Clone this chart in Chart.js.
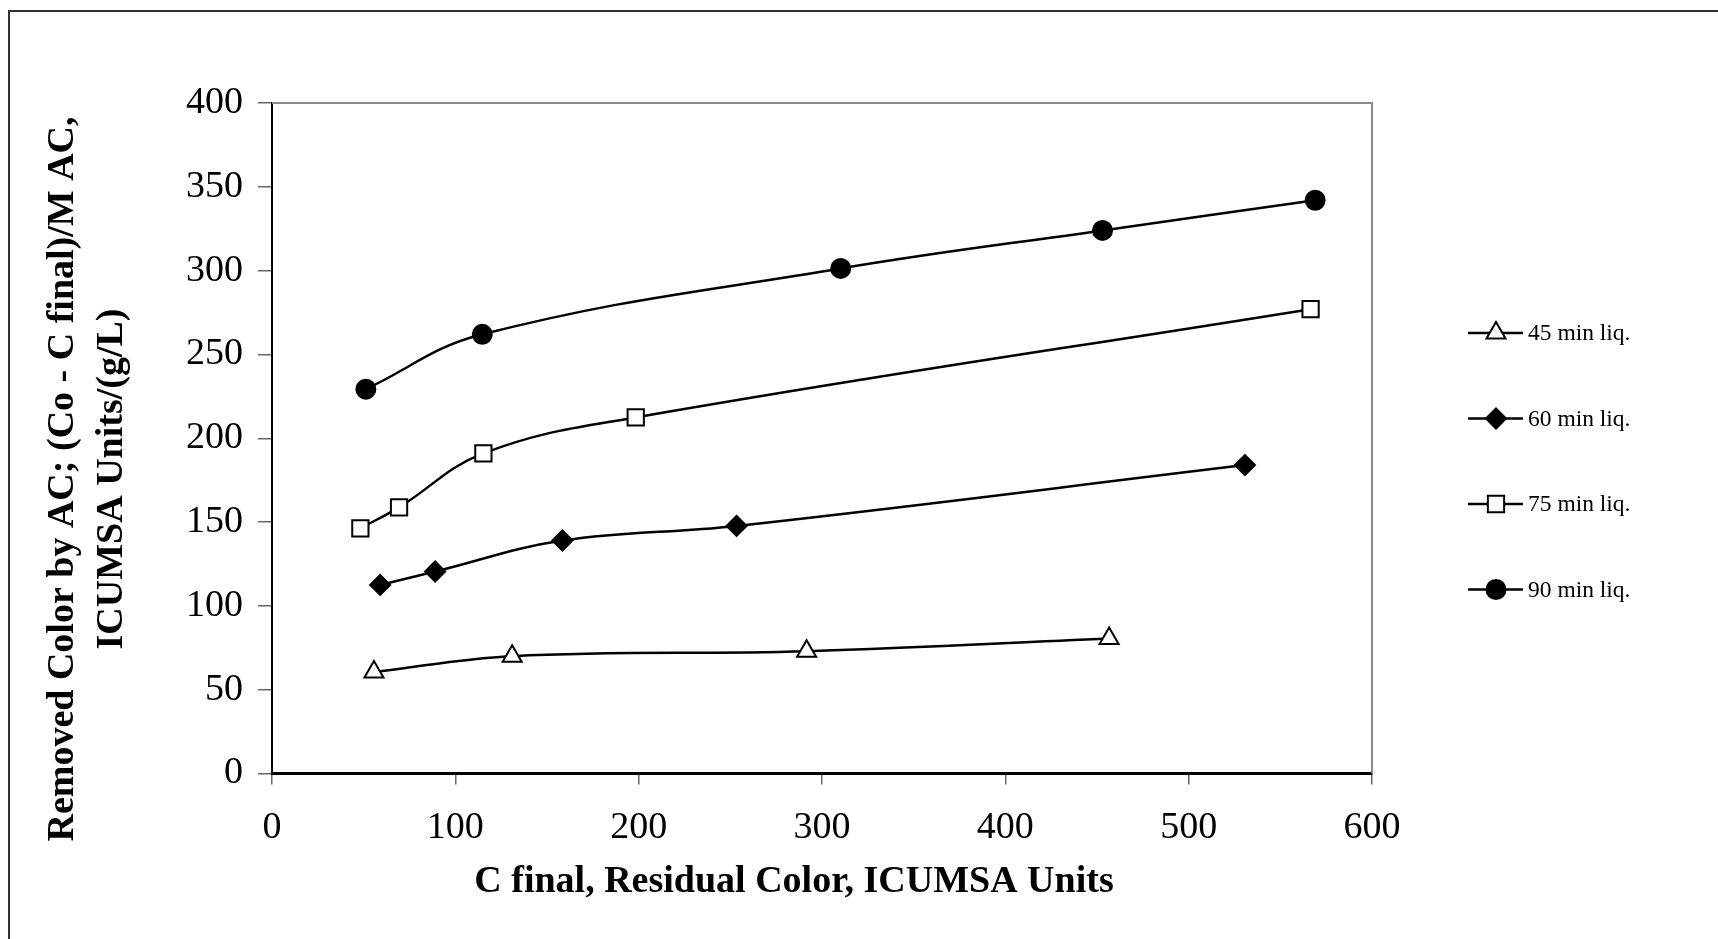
<!DOCTYPE html>
<html>
<head>
<meta charset="utf-8">
<script src="https://cdn.jsdelivr.net/npm/chart.js@4.4.1/dist/chart.umd.min.js"></script>
<style>
  html, body { margin: 0; padding: 0; background: #fff; }
  #wrap { width: 1718px; height: 939px; }
</style>
</head>
<body>
<div id="wrap"><canvas id="c" width="1718" height="939"></canvas></div>
<script>
// Residual colour (C final) and colour removed per gram of activated carbon
const x45 = [55.6, 131, 291.6, 456.6];
const y45 = [60.5, 70, 73, 80.5];

const x60 = [59, 89, 158.4, 253.4, 530.7];
const y60 = [112.5, 120.5, 139, 147.7, 184];

const x75 = [48.2, 69.3, 115.3, 198.4, 566.5];
const y75 = [146.3, 158.8, 191, 212.4, 277];

const x90 = [51.2, 114.7, 310.2, 453, 569];
const y90 = [229.3, 262, 301.3, 324, 342];

const seriesNames = ['45 min liq.', '60 min liq.', '75 min liq.', '90 min liq.'];
const xTicks = [0, 100, 200, 300, 400, 500, 600];
const yTicks = [0, 50, 100, 150, 200, 250, 300, 350, 400];

const xTitle = 'C final, Residual Color, ICUMSA Units';
const yTitleLines = ['Removed Color by AC; (Co - C final)/M AC,', 'ICUMSA Units/(g/L)'];

const SERIF = '"Liberation Serif", "Times New Roman", serif';

function pairs(xs, ys) { return xs.map((x, i) => ({ x: x, y: ys[i] })); }

const markerStyles = [
  { pointStyle: 'triangle', radius: 11, fill: '#fff' },
  { pointStyle: 'rectRot', radius: 10, fill: '#000' },
  { pointStyle: 'rect', radius: 11.5, fill: '#fff' },
  { pointStyle: 'circle', radius: 9.5, fill: '#000' }
];
const seriesData = [pairs(x45, y45), pairs(x60, y60), pairs(x75, y75), pairs(x90, y90)];

const datasets = seriesData.map((d, i) => ({
  label: seriesNames[i],
  data: d,
  showLine: true,
  borderColor: '#000',
  borderWidth: 2.5,
  tension: 0.4,
  pointStyle: markerStyles[i].pointStyle,
  pointRadius: markerStyles[i].radius,
  pointHoverRadius: markerStyles[i].radius,
  pointBackgroundColor: markerStyles[i].fill,
  pointBorderColor: '#000',
  pointBorderWidth: 2
}));

// Frame, plot border, axis titles and legend
const decorations = {
  id: 'decorations',
  beforeDatasetsDraw(chart) {
    const ctx = chart.ctx, a = chart.chartArea;
    ctx.save();
    ctx.strokeStyle = '#8a8a8a';
    ctx.lineWidth = 2;
    ctx.beginPath();
    ctx.moveTo(a.left, a.top);
    ctx.lineTo(a.right, a.top);
    ctx.lineTo(a.right, a.bottom);
    ctx.stroke();
    ctx.restore();
  },
  afterDraw(chart) {
    const ctx = chart.ctx;
    ctx.save();
    // outer frame
    ctx.strokeStyle = '#333';
    ctx.lineWidth = 2;
    ctx.beginPath();
    ctx.moveTo(9, 939);
    ctx.lineTo(9, 11);
    ctx.lineTo(1718, 11);
    ctx.stroke();

    // x axis title
    ctx.fillStyle = '#000';
    ctx.font = 'bold 38px ' + SERIF;
    ctx.textAlign = 'center';
    ctx.textBaseline = 'middle';
    ctx.fillText(xTitle, 794, 882);

    // y axis title (two rotated lines)
    ctx.save();
    ctx.translate(63, 479);
    ctx.rotate(-Math.PI / 2);
    ctx.fillText(yTitleLines[0], 0, 0);
    ctx.fillText(yTitleLines[1], 0, 49);
    ctx.restore();

    // legend
    const rows = [333, 418.5, 504, 589.5];
    ctx.font = '23.5px ' + SERIF;
    ctx.textAlign = 'left';
    rows.forEach((yy, i) => {
      ctx.strokeStyle = '#000';
      ctx.lineWidth = 2.5;
      ctx.beginPath();
      ctx.moveTo(1468, yy);
      ctx.lineTo(1523, yy);
      ctx.stroke();
      const m = markerStyles[i];
      ctx.fillStyle = m.fill;
      ctx.strokeStyle = '#000';
      ctx.lineWidth = 2;
      Chart.helpers.drawPoint(ctx, { pointStyle: m.pointStyle, radius: m.radius, rotation: 0, borderWidth: 2 }, 1496, yy);
      ctx.fillStyle = '#000';
      ctx.fillText(seriesNames[i], 1528, yy + 1);
    });
    ctx.restore();
  }
};

new Chart(document.getElementById('c'), {
  type: 'scatter',
  data: { datasets: datasets },
  options: {
    responsive: false,
    animation: false,
    devicePixelRatio: 1,
    layout: { padding: { left: 0, top: 103, right: 346, bottom: 0 } },
    plugins: { legend: { display: false }, tooltip: { enabled: false } },
    scales: {
      x: {
        type: 'linear', min: 0, max: 600,
        afterFit(s) { s.height = 165.5; },
        afterBuildTicks(s) { s.ticks = xTicks.map(v => ({ value: v })); },
        grid: { drawOnChartArea: false, drawTicks: true, tickLength: 11, color: '#666', lineWidth: 1.5 },
        border: { display: true, color: '#000', width: 3 },
        ticks: { color: '#000', font: { family: SERIF, size: 38 }, padding: 21, maxRotation: 0 }
      },
      y: {
        type: 'linear', min: 0, max: 400,
        afterFit(s) { s.width = 272; },
        afterBuildTicks(s) { s.ticks = yTicks.map(v => ({ value: v })); },
        grid: { drawOnChartArea: false, drawTicks: true, tickLength: 14, color: '#666', lineWidth: 1.5 },
        border: { display: true, color: '#000', width: 2 },
        ticks: { color: '#000', font: { family: SERIF, size: 38 }, padding: 15 }
      }
    }
  },
  plugins: [decorations]
});
</script>
</body>
</html>
